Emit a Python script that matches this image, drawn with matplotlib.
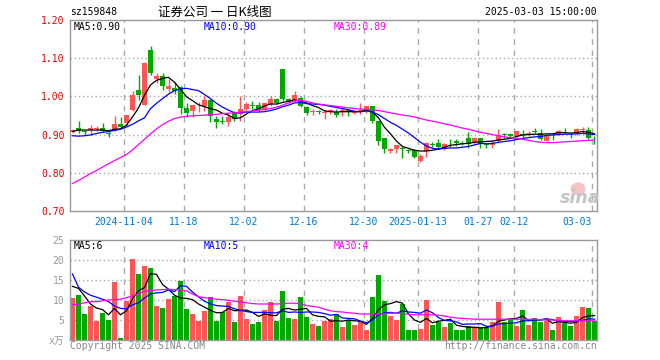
import matplotlib
matplotlib.use("Agg")
import matplotlib.pyplot as plt
from matplotlib.patches import Ellipse

plt.rcParams["font.family"] = ["DejaVu Sans Mono", "Noto Sans CJK SC"]

# tick dates (index of the trading day the label sits on)
tick_labels = ["2024-11-04", "11-18", "12-02", "12-16", "12-30", "2025-01-13", "01-27", "02-12", "03-03"]
tick_index = [9, 19, 29, 39, 49, 58, 68, 74, 87]

opens = [.907, .916, .910, .913, .914, .916, .903, .914, .927, .930,
         .965, 1.018, .977, 1.121, 1.045, 1.053, 1.019, 1.022, 1.024, .969,
         .961, .971, .975, .990, .942, .934, .933, .958, .954, .967,
         .978, .977, .967, .980, .993, 1.072, .993, .991, .995, .971,
         .959, .961, .957, .958, .960, .958, .964, .956, .958, .965,
         .974, .936, .890, .857, .861, .866, .858, .859, .831, .857,
         .875, .877, .863, .876, .883, .878, .890, .879, .890, .874,
         .873, .882, .900, .901, .896, .900, .902, .908, .905, .883,
         .894, .901, .910, .897, .903, .913, .911, .889]
highs = [.915, .935, .912, .925, .923, .931, .913, .949, .947, .951,
         1.015, 1.056, 1.089, 1.133, 1.060, 1.062, 1.046, 1.037, 1.028, .982,
         .977, .985, 1.001, .993, .949, .949, .953, .962, 1.000, .986,
         .989, .986, .984, 1.002, .995, 1.072, .997, 1.015, 1.000, .975,
         .967, .965, .967, .967, .967, .971, .967, .962, .982, .975,
         .975, .936, .890, .866, .872, .870, .863, .863, .848, .881,
         .881, .888, .879, .888, .888, .884, .908, .892, .892, .876,
         .885, .914, .905, .905, .910, .911, .910, .918, .914, .899,
         .903, .911, .917, .903, .917, .920, .920, .896]
lows = [.904, .905, .898, .900, .909, .907, .895, .909, .918, .923,
        .962, .990, .977, 1.055, 1.035, 1.017, 1.012, 1.006, .953, .947,
        .947, .958, .962, .932, .916, .929, .923, .936, .936, .962,
        .967, .962, .962, .975, .980, .989, .984, .986, .971, .951,
        .951, .954, .942, .955, .945, .949, .949, .954, .954, .956,
        .930, .872, .853, .853, .853, .839, .851, .839, .828, .842,
        .868, .863, .860, .868, .870, .872, .866, .875, .866, .864,
        .864, .879, .892, .892, .894, .890, .896, .903, .885, .882,
        .885, .900, .903, .890, .899, .905, .888, .876]
closes = [.911, .910, .907, .916, .916, .909, .902, .927, .920, .951,
          1.004, 1.004, 1.088, 1.060, 1.053, 1.028, 1.028, 1.015, .969, .956,
          .977, .973, .991, .950, .932, .933, .947, .942, .968, .980,
          .976, .968, .982, .993, .982, .993, .986, 1.003, .975, .956,
          .961, .959, .958, .964, .951, .965, .958, .960, .965, .975,
          .936, .883, .863, .863, .872, .863, .857, .842, .844, .877,
          .874, .868, .875, .875, .879, .876, .876, .890, .876, .873,
          .879, .899, .899, .896, .910, .899, .903, .907, .888, .896,
          .893, .910, .909, .896, .914, .914, .890, .888]

ma5 = [.908, .912, .912, .912, .912, .912, .910, .914, .915, .925,
       .946, .970, 1.003, 1.030, 1.042, 1.047, 1.050, 1.037, 1.019, .999,
       .989, .978, .973, .968, .964, .956, .951, .942, .944, .954,
       .963, .967, .975, .980, .980, .984, .987, .991, .988, .983,
       .976, .971, .962, .960, .959, .960, .960, .960, .960, .964,
       .959, .944, .919, .902, .883, .869, .864, .859, .857, .857,
       .859, .862, .867, .872, .874, .876, .877, .880, .881, .882,
       .883, .886, .888, .890, .895, .899, .900, .901, .901, .902,
       .902, .905, .905, .904, .905, .908, .906, .902]
ma10 = [.897, .896, .897, .899, .903, .906, .908, .911, .914, .920,
        .927, .936, .944, .968, .982, .994, 1.006, 1.015, 1.020, 1.021,
        1.018, 1.015, 1.005, .994, .982, .972, .964, .957, .957, .959,
        .959, .959, .960, .963, .967, .973, .977, .983, .984, .981,
        .980, .979, .977, .974, .971, .968, .965, .961, .960, .962,
        .959, .952, .942, .932, .924, .914, .904, .892, .880, .870,
        .864, .862, .864, .865, .865, .867, .869, .873, .877, .876,
        .877, .880, .882, .884, .887, .890, .892, .894, .895, .898,
        .899, .900, .901, .901, .902, .903, .902, .900]
ma30 = [.772, .780, .789, .798, .806, .815, .824, .832, .840, .848,
        .860, .874, .888, .902, .915, .926, .935, .942, .946, .948,
        .949, .950, .951, .952, .953, .955, .956, .957, .959, .960,
        .962, .964, .966, .968, .972, .977, .983, .988, .989, .987,
        .983, .980, .978, .976, .974, .972, .970, .968, .967, .966,
        .965, .963, .960, .957, .954, .951, .949, .946, .942, .938,
        .935, .932, .928, .925, .921, .917, .914, .910, .906, .903,
        .900, .897, .894, .892, .890, .888, .885, .882, .880, .879,
        .879, .880, .881, .882, .883, .884, .885, .886]

# volume in 万
volume = [10.6, 11.25, 6.5, 8.5, 4.8, 6.75, 5.0, 14.5, 0.4, 9.8,
          20.25, 16.5, 18.5, 18.0, 8.5, 8.0, 10.25, 11.0, 14.75, 7.75,
          6.5, 4.8, 7.25, 10.7, 4.8, 7.0, 9.5, 4.5, 11.0, 5.25,
          4.0, 4.5, 7.5, 9.5, 4.75, 12.25, 5.5, 5.25, 10.75, 5.75,
          4.0, 3.5, 4.75, 5.25, 6.5, 3.25, 5.0, 3.75, 4.75, 2.5,
          10.75, 16.25, 9.75, 6.0, 5.0, 9.0, 2.5, 2.5, 2.75, 10.0,
          3.75, 4.5, 3.25, 4.25, 2.5, 2.5, 3.5, 3.25, 3.25, 3.0,
          4.5, 9.5, 4.5, 5.0, 3.5, 7.5, 3.75, 5.5, 4.5, 4.75,
          2.5, 5.75, 4.25, 3.5, 6.0, 8.25, 8.0, 4.75]
vol_ma5 = [13.4, 12.9, 11.0, 9.0, 8.0, 7.6, 6.3, 7.9, 6.3, 7.3,
           10.3, 12.3, 13.1, 16.6, 16.4, 13.9, 12.7, 11.2, 10.5, 10.4,
           10.1, 9.0, 8.2, 7.4, 6.8, 6.9, 7.9, 7.3, 7.4, 7.5,
           6.9, 5.9, 6.5, 6.2, 6.1, 7.7, 7.9, 7.5, 7.7, 7.9,
           6.3, 5.9, 5.8, 4.7, 4.8, 4.7, 5.0, 4.8, 4.7, 3.9,
           5.4, 7.6, 8.8, 9.1, 9.6, 9.2, 6.5, 5.0, 4.4, 5.4,
           4.3, 4.7, 4.9, 5.2, 3.7, 3.4, 3.2, 3.2, 3.0, 3.1,
           3.5, 4.7, 5.0, 5.3, 5.4, 6.0, 4.9, 5.1, 5.0, 5.2,
           4.2, 4.6, 4.4, 4.2, 4.4, 5.6, 6.0, 6.1]
vol_ma10 = [16.5, 13.2, 12.0, 11.2, 10.7, 10.2, 9.6, 8.5, 7.9, 7.8,
            8.8, 9.3, 10.5, 11.5, 11.8, 11.9, 12.5, 12.1, 13.6, 13.4,
            12.0, 10.8, 9.7, 9.0, 8.6, 8.5, 8.4, 7.8, 7.4, 7.1,
            6.9, 6.9, 6.9, 6.8, 6.8, 7.3, 6.9, 7.0, 6.9, 7.0,
            7.0, 6.9, 6.6, 6.2, 6.4, 5.5, 5.4, 5.3, 4.7, 4.3,
            5.0, 6.3, 6.8, 6.9, 6.7, 7.3, 7.0, 6.9, 6.7, 7.5,
            6.8, 5.6, 4.9, 4.8, 4.5, 3.9, 4.0, 4.0, 4.1, 3.4,
            3.5, 4.0, 4.1, 4.2, 4.3, 4.8, 4.8, 5.0, 5.1, 5.3,
            5.1, 4.7, 4.7, 4.6, 4.8, 4.9, 5.3, 5.2]
vol_ma30 = [8.8, 8.9, 9.3, 9.6, 9.6, 9.8, 10.0, 10.1, 10.2, 10.6,
            11.0, 11.6, 12.2, 12.4, 12.5, 12.6, 12.7, 12.6, 12.5, 12.3,
            11.5, 10.8, 10.6, 10.4, 10.2, 10.1, 9.9, 9.7, 9.5, 9.3,
            9.1, 9.0, 9.0, 9.0, 9.0, 9.1, 9.2, 9.2, 9.1, 8.6,
            8.4, 8.2, 7.7, 7.3, 7.1, 7.0, 6.8, 6.7, 6.5, 6.5,
            6.5, 6.5, 6.6, 6.7, 6.7, 6.6, 6.4, 6.3, 6.3, 6.3,
            6.3, 6.2, 6.0, 5.7, 5.5, 5.4, 5.3, 5.2, 5.2, 5.2,
            5.2, 5.2, 5.2, 5.2, 5.2, 5.2, 5.2, 5.2, 5.1, 5.0,
            5.0, 4.9, 4.8, 4.8, 4.8, 4.8, 4.8, 4.8]

RED = "#ff5555"
GREEN = "#00a800"
GRID = "#aaaaaa"
FRAME = "#999999"

W, H = 660, 360
n = len(closes)
idx = list(range(n))
colors = [RED if c >= o else GREEN for o, c in zip(opens, closes)]
xmin, xmax = -2.5 / 6, n - 1 + 2.5 / 6
grid_x = [t - 2.5 / 6 for t in tick_index]


def px(x, y):
    return x / W, 1 - y / H


fig = plt.figure(figsize=(W / 100, H / 100), dpi=100)
ax = fig.add_axes([70 / W, 1 - 211 / H, 527 / W, 191 / H])
axv = fig.add_axes([70 / W, 1 - 340 / H, 527 / W, 100 / H])

for a in (ax, axv):
    a.set_xlim(xmin, xmax)
    for s in a.spines.values():
        s.set_color(FRAME)
        s.set_linewidth(1.0)
    for gx in grid_x:
        a.axvline(gx, color=GRID, lw=1.0, ls=(0, (4, 4)), zorder=0)

# price panel
ax.set_ylim(0.70, 1.20)
for gy in (0.8, 0.9, 1.0, 1.1):
    ax.axhline(gy, color=GRID, lw=1.0, ls=(0, (1, 2)), zorder=0)
ax.vlines(idx, lows, highs, colors=colors, lw=1.0, zorder=2)
bottoms = [min(o, c) for o, c in zip(opens, closes)]
heights = [max(abs(c - o), 0.0015) for o, c in zip(opens, closes)]
ax.bar(idx, heights, bottom=bottoms, width=5 / 6, color=colors, linewidth=0, zorder=3)
ax.plot(idx, ma5, color="black", lw=0.9, zorder=4)
ax.plot(idx, ma10, color="#0000ff", lw=0.9, zorder=4)
ax.plot(idx, ma30, color="#ff00ff", lw=0.9, zorder=4)

ax.set_yticks([0.7, 0.8, 0.9, 1.0, 1.1, 1.2])
ax.set_yticklabels(["0.70", "0.80", "0.90", "1.00", "1.10", "1.20"], color="#e00000", fontsize=7)
ax.set_xticks(grid_x)
ax.set_xticklabels(tick_labels, color="#0078d0", fontsize=7)
ax.tick_params(length=0, pad=4)
ax.get_xticklabels()[-1].set_horizontalalignment("right")

# volume panel
axv.set_ylim(0, 25)
for gy in (5, 10, 15, 20):
    axv.axhline(gy, color=GRID, lw=1.0, ls=(0, (1, 2)), zorder=0)
axv.bar(idx, volume, width=5 / 6, color=colors, linewidth=0, zorder=2)
axv.plot(idx, vol_ma5, color="black", lw=0.9, zorder=3)
axv.plot(idx, vol_ma10, color="#0000ff", lw=0.9, zorder=3)
axv.plot(idx, vol_ma30, color="#ff00ff", lw=0.9, zorder=3)
axv.set_xticks([])
axv.set_yticks([0, 5, 10, 15, 20, 25])
axv.set_yticklabels(["x万", "5", "10", "15", "20", "25"], color="#999999", fontsize=7)
axv.tick_params(length=0, pad=4)

# header texts
fig.text(*px(70, 12), "sz159848", fontsize=7, va="center", ha="left", color="black")
fig.text(*px(215, 12), "证券公司 一 日K线图", fontsize=9, va="center", ha="center",
         family=["Noto Sans CJK SC", "DejaVu Sans"], color="black")
fig.text(*px(597, 12), "2025-03-03 15:00:00", fontsize=7, va="center", ha="right", color="black")

fig.text(*px(74, 27), "MA5:0.90", fontsize=7, va="center", color="black")
fig.text(*px(204, 27), "MA10:0.90", fontsize=7, va="center", color="#0000ff")
fig.text(*px(334, 27), "MA30:0.89", fontsize=7, va="center", color="#ff00ff")
fig.text(*px(74, 246), "MA5:6", fontsize=7, va="center", color="black")
fig.text(*px(204, 246), "MA10:5", fontsize=7, va="center", color="#0000ff")
fig.text(*px(334, 246), "MA30:4", fontsize=7, va="center", color="#ff00ff")

fig.text(*px(70, 346), "Copyright 2025 SINA.COM", fontsize=7, va="center", color="#888888")
fig.text(*px(597, 346), "http://finance.sina.com.cn", fontsize=7, va="center", ha="right", color="#888888")

# sina watermark
fig.patches.append(Ellipse(px(578, 189), 15 / W, 13 / H, transform=fig.transFigure,
                           facecolor="#f6c4c4", edgecolor="none", zorder=1))
fig.text(*px(580, 198), "sina", fontsize=12.5, fontweight="bold", style="italic",
         va="center", ha="center", color="#c4c4c4", family="DejaVu Sans")

fig.savefig("out.png", dpi=100)
